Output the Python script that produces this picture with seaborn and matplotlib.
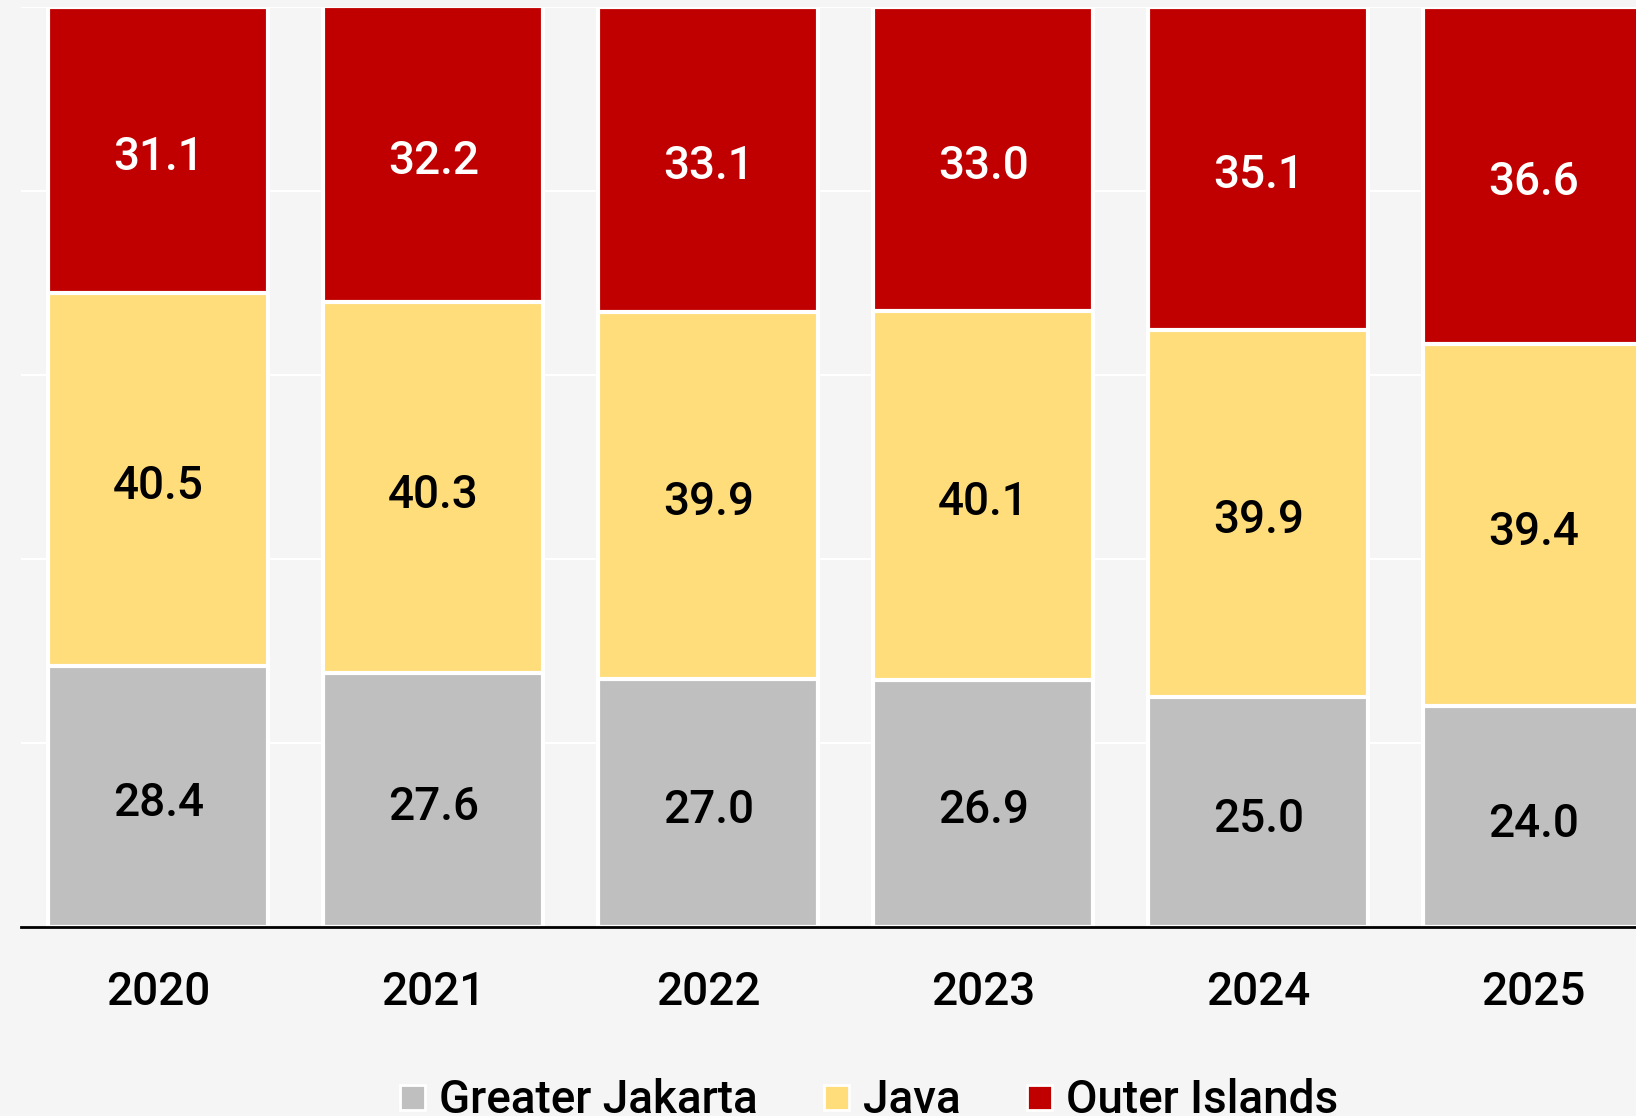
import numpy as np
import pandas as pd
import matplotlib
matplotlib.use("Agg")
import matplotlib.pyplot as plt
from matplotlib.lines import Line2D
import seaborn as sns

years = ["2020", "2021", "2022", "2023", "2024", "2025"]
greater_jakarta = [28.4, 27.6, 27.0, 26.9, 25.0, 24.0]
java = [40.5, 40.3, 39.9, 40.1, 39.9, 39.4]
outer_islands = [31.1, 32.2, 33.1, 33.0, 35.1, 36.6]

series = ["Greater Jakarta", "Java", "Outer Islands"]
colors = ["#bfbfbf", "#ffdd7b", "#c00000"]
label_colors = ["black", "black", "white"]

sns.set_theme(style="whitegrid")
plt.rcParams["font.family"] = ["Roboto", "DejaVu Sans"]
plt.rcParams["font.weight"] = "medium"

df = pd.DataFrame({"year": years, "Greater Jakarta": greater_jakarta,
                   "Java": java, "Outer Islands": outer_islands})
cum = df[series].cumsum(axis=1)

fig = plt.figure(figsize=(16.36, 11.16), dpi=100, facecolor="#f5f5f5")
ax = fig.add_axes([21 / 1636, 1 - 927 / 1116, 1650 / 1636, 920 / 1116])
ax.set_facecolor("#f5f5f5")

# draw cumulative totals back to front so the stack shows
for name, col in reversed(list(zip(series, colors))):
    sns.barplot(x=df["year"], y=cum[name], color=col, ax=ax, width=0.8,
                edgecolor="white", linewidth=3, saturation=1, zorder=3)

# segment labels
for i, y in enumerate(years):
    base = 0
    for name, tc in zip(series, label_colors):
        v = df.loc[i, name]
        ax.annotate(f"{v:.1f}", (i, base + v / 2), xytext=(0, -5),
                    textcoords="offset points", ha="center", va="center",
                    fontsize=33, color=tc, fontweight="medium", zorder=5)
        base += v

ax.set_xlim(-0.5, 5.5)
ax.set_ylim(0, 100)
ax.set_yticks(np.arange(0, 101, 20))
ax.set_yticklabels([])
ax.grid(axis="y", color="white", linewidth=1.5)
ax.grid(axis="x", visible=False)
ax.set_xlabel("")
ax.set_ylabel("")
ax.tick_params(axis="x", length=0, pad=31, labelsize=33, labelcolor="black")
ax.tick_params(axis="y", length=0)
for lbl in ax.get_xticklabels():
    lbl.set_fontweight("medium")
for s in ["top", "right", "left"]:
    ax.spines[s].set_visible(False)
ax.spines["bottom"].set_color("black")
ax.spines["bottom"].set_linewidth(2)
ax.spines["bottom"].set_zorder(6)

handles = [Line2D([0], [0], marker="s", linestyle="none", markersize=18,
                  markerfacecolor=c, markeredgecolor="white", markeredgewidth=2)
           for c in colors]
leg = fig.legend(handles, series, loc="center", bbox_to_anchor=(866 / 1636, 1 - 1100 / 1116),
                 ncol=3, frameon=False, fontsize=33, handletextpad=0.2,
                 columnspacing=1.3, handlelength=0.8)
for t in leg.get_texts():
    t.set_color("black")
    t.set_fontweight("medium")

fig.savefig("out.png", dpi=100, facecolor=fig.get_facecolor())
